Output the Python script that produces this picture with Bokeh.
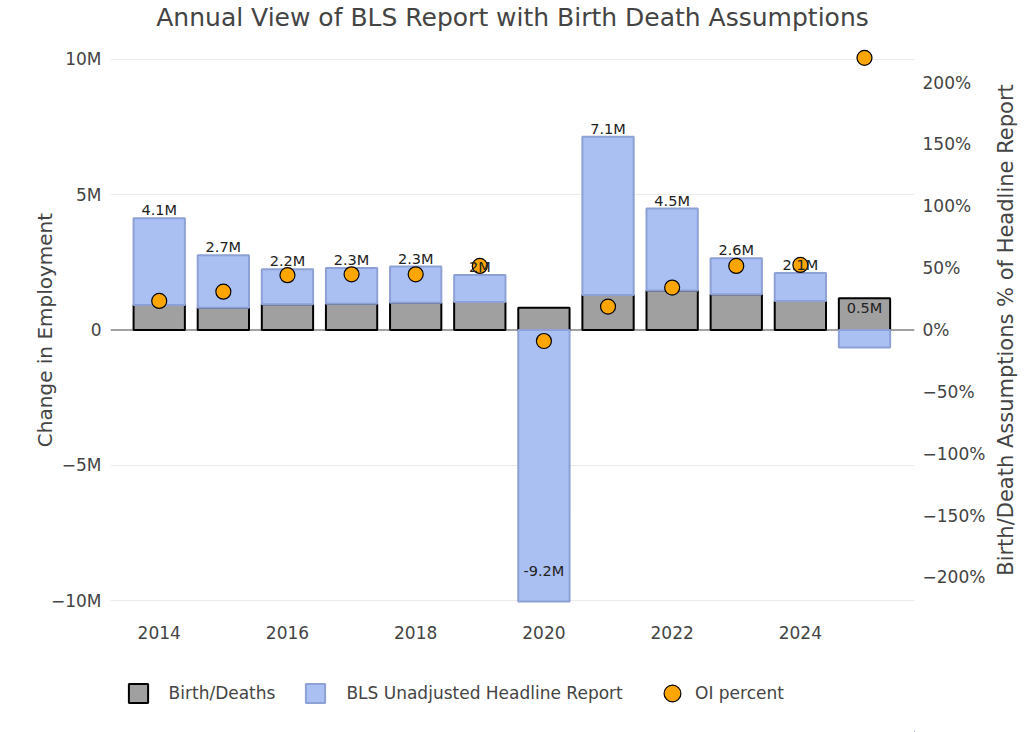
import numpy as np
from bokeh.plotting import figure
from bokeh.layouts import column, row
from bokeh.models import (ColumnDataSource, Range1d, LinearAxis, FixedTicker,
                          Span, Legend, LegendItem, Title, BoxAnnotation)
from bokeh.core.properties import value
from bokeh.embed import file_html
from bokeh.resources import INLINE

# ---------------- data (millions / percent) ----------------
years = [2014, 2015, 2016, 2017, 2018, 2019, 2020, 2021, 2022, 2023, 2024, 2025]
birth_deaths = [0.92, 0.82, 0.95, 0.97, 1.01, 1.03, 0.82, 1.29, 1.46, 1.32, 1.07, 1.17]
headline = [4.12, 2.76, 2.24, 2.29, 2.34, 2.03, -9.20, 7.13, 4.48, 2.65, 2.10, 0.52]
headline_labels = ["4.1M", "2.7M", "2.2M", "2.3M", "2.3M", "2M", "-9.2M",
                   "7.1M", "4.5M", "2.6M", "2.1M", "0.5M"]
oi_percent = [23.5, 31.0, 44.3, 45.0, 45.0, 51.8, -8.9, 18.9, 34.3, 51.8, 52.6, 220.0]

x_ticks = [2014, 2016, 2018, 2020, 2022, 2024]
left_ticks = [-10, -5, 0, 5, 10]
left_tick_labels = ["\u221210M", "\u22125M", "0", "5M", "10M"]
right_ticks = [-200, -150, -100, -50, 0, 50, 100, 150, 200]
right_tick_labels = ["\u2212200%", "\u2212150%", "\u2212100%", "\u221250%", "0%",
                     "50%", "100%", "150%", "200%"]

# stacked ("relative") layout of the headline segment on top of birth/deaths
bd = np.array(birth_deaths)
hl = np.array(headline)
seg = hl - bd
blue_bottom = np.where(seg >= 0, bd, 0.0)
blue_top = np.where(seg >= 0, hl, seg)

src = ColumnDataSource(dict(x=years, bd=birth_deaths, hl=headline,
                            lbl=headline_labels, oi=oi_percent,
                            bb=blue_bottom, bt=blue_top))

FONT = "DejaVu Sans"
TXT = "#444444"
GRAY_FILL, GRAY_LINE = "#a0a0a0", "black"
BLUE_FILL, BLUE_LINE = "#aabff2", "#8ea1d6"
DOT_FILL = "#FFA500"

def bare(fig):
    fig.outline_line_color = None
    fig.background_fill_color = "white"
    fig.border_fill_color = "white"

# ---------------- title strip ----------------
ts = figure(width=1024, height=34, output_backend="svg", toolbar_location=None,
            x_range=Range1d(0, 1), y_range=Range1d(0, 1),
            x_axis_type=None, y_axis_type=None,
            min_border_left=110, min_border_right=110, min_border_top=0, min_border_bottom=0)
bare(ts)
ts.xgrid.visible = False
ts.ygrid.visible = False
ts.title.text = "Annual View of BLS Report with Birth Death Assumptions"
ts.title.align = "center"
ts.title.text_font = FONT
ts.title.text_font_size = "25px"
ts.title.text_font_style = "normal"
ts.title.text_color = TXT
ts.title.standoff = 0

# ---------------- main chart ----------------
p = figure(width=990, height=616, output_backend="svg", toolbar_location=None,
           x_range=Range1d(2013.24, 2025.78), y_range=Range1d(-10.5, 10.5),
           min_border_left=110, min_border_right=76,
           min_border_top=11, min_border_bottom=36)
p.extra_y_ranges = {"pct": Range1d(-230, 230)}
bare(p)

p.xgrid.visible = False
p.ygrid.ticker = FixedTicker(ticks=[-10, -5, 5, 10])
p.ygrid.grid_line_color = "#ebebeb"
p.ygrid.grid_line_width = 1
p.add_layout(Span(location=0, dimension="width", line_color="#444444",
                  line_width=1, level="underlay"))

def style_axis(ax):
    ax.axis_line_color = None
    ax.major_tick_line_color = None
    ax.minor_tick_line_color = None
    ax.major_tick_out = 0
    ax.major_tick_in = 0
    ax.minor_tick_out = 0
    ax.minor_tick_in = 0
    ax.major_label_text_font = FONT
    ax.major_label_text_font_size = "17px"
    ax.major_label_text_color = TXT
    ax.axis_label_text_font = FONT
    ax.axis_label_text_font_size = "20px"
    ax.axis_label_text_font_style = "normal"
    ax.axis_label_text_color = TXT

xa = p.xaxis[0]
style_axis(xa)
xa.ticker = FixedTicker(ticks=x_ticks)
xa.major_label_standoff = 11

ya = p.yaxis[0]
style_axis(ya)
ya.ticker = FixedTicker(ticks=left_ticks)
ya.major_label_overrides = {t: s for t, s in zip(left_ticks, left_tick_labels)}
ya.axis_label = "Change in Employment"
ya.major_label_standoff = 9
ya.axis_label_standoff = -9

ra = LinearAxis(y_range_name="pct")
style_axis(ra)
ra.ticker = FixedTicker(ticks=right_ticks)
ra.major_label_overrides = {t: s for t, s in zip(right_ticks, right_tick_labels)}
ra.major_label_standoff = 8
p.add_layout(ra, "right")

gray = p.vbar(x="x", width=0.8, bottom=0, top="bd", source=src,
              fill_color=GRAY_FILL, line_color=GRAY_LINE, line_width=2)
blue = p.vbar(x="x", width=0.8, bottom="bb", top="bt", source=src,
              fill_color=BLUE_FILL, line_color=BLUE_LINE, line_width=2)
pts = p.scatter(x="x", y="oi", source=src, y_range_name="pct", size=15,
                fill_color=DOT_FILL, line_color="black", line_width=1.2)
p.text(x="x", y="hl", text="lbl", source=src, text_align="center",
       text_baseline="bottom", text_font=value(FONT), text_font_size="14.5px",
       text_color="#222222")

# ---------------- right axis title strip (reads bottom-to-top) ----------------
pr = figure(width=34, height=616, output_backend="svg", toolbar_location=None,
            x_range=Range1d(0, 1), y_range=Range1d(0, 1),
            x_axis_type=None, y_axis_type=None,
            min_border_left=0, min_border_right=0, min_border_top=11, min_border_bottom=36)
bare(pr)
pr.xgrid.visible = False
pr.ygrid.visible = False
pr.add_layout(Title(text="Birth/Death Assumptions % of Headline Report", align="center",
                    text_font=FONT, text_font_size="21px", text_font_style="normal",
                    text_color=TXT, standoff=2), "left")

# ---------------- legend strip ----------------
lg = figure(width=1024, height=82, output_backend="svg", toolbar_location=None,
            x_range=Range1d(1990, 2000), y_range=Range1d(300, 400),
            x_axis_type=None, y_axis_type=None,
            min_border_left=110, min_border_right=0, min_border_top=0, min_border_bottom=0)
bare(lg)
lg.xgrid.visible = False
lg.ygrid.visible = False
# legend proxies share the chart's data; they lie outside this strip's ranges
lg_gray = lg.vbar(x="x", width=0.8, bottom=0, top="bd", source=src,
                  fill_color=GRAY_FILL, line_color=GRAY_LINE, line_width=2)
lg_blue = lg.vbar(x="x", width=0.8, bottom="bb", top="bt", source=src,
                  fill_color=BLUE_FILL, line_color=BLUE_LINE, line_width=2)
lg_dot = lg.scatter(x="x", y="oi", source=src, size=15, fill_color=DOT_FILL,
                    line_color="black", line_width=1.2)
# plain white cover over the strip's frame so no proxy remnants show
lg.add_layout(BoxAnnotation(fill_color="white", fill_alpha=1.0, line_color=None))

common = dict(orientation="horizontal", padding=0, margin=0, border_line_color=None,
              background_fill_alpha=0, label_text_font=FONT,
              label_text_font_size="17px", label_text_color=TXT)
leg_a = Legend(items=[LegendItem(label="Birth/Deaths", renderers=[lg_gray]),
                      LegendItem(label="BLS Unadjusted Headline Report", renderers=[lg_blue])],
               location=(15.6, 27), glyph_width=24, glyph_height=24,
               label_standoff=19, spacing=28, **common)
leg_b = Legend(items=[LegendItem(label="OI percent", renderers=[lg_dot])],
               location=(541, 18), glyph_width=42, glyph_height=42,
               label_standoff=2, **common)
lg.add_layout(leg_a, "center")
lg.add_layout(leg_b, "center")

layout = column(ts, row(p, pr, spacing=0), lg, spacing=0)
open("out.html", "w").write(file_html(layout, INLINE))
